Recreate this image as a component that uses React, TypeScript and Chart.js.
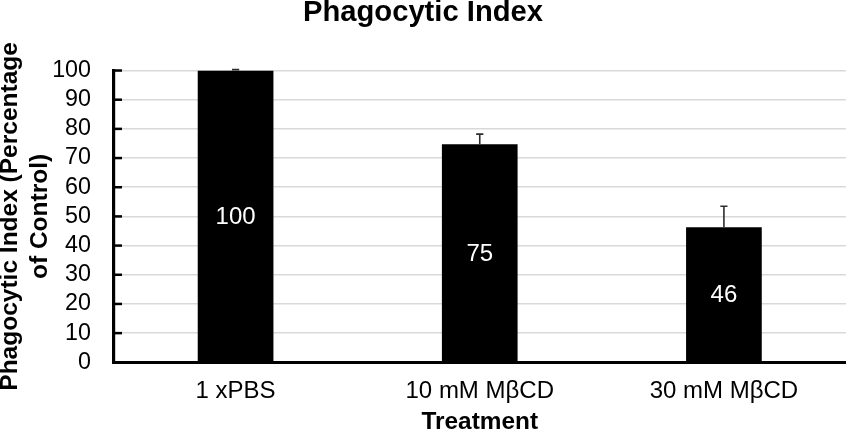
import { useEffect, useRef } from 'react';
import { Chart, registerables } from 'chart.js';

Chart.register(...registerables);

const FONT = "'Liberation Sans', Arial, sans-serif";

const chartTitle = 'Phagocytic Index';
const xAxisTitle = 'Treatment';
const yAxisTitle = ['Phagocytic Index (Percentage', 'of Control)'];
const categories = ['1 xPBS', '10 mM MβCD', '30 mM MβCD'];
const values = [100, 74.7, 46.3];
const errors = [0.3, 3.5, 7.2];
const valueLabels = ['100', '75', '46'];
const yTickValues = [0, 10, 20, 30, 40, 50, 60, 70, 80, 90, 100];

const barExtrasPlugin = {
  id: 'barExtras',
  afterDatasetsDraw(chart: any) {
    const meta = chart.getDatasetMeta(0);
    const yScale = chart.scales.y;
    const ctx = chart.ctx;
    ctx.save();
    // error bars (plus direction)
    ctx.strokeStyle = '#2e2e2e';
    ctx.lineWidth = 1.6;
    meta.data.forEach((bar: any, i: number) => {
      const top = yScale.getPixelForValue(values[i] + errors[i]);
      ctx.beginPath();
      ctx.moveTo(bar.x, bar.y);
      ctx.lineTo(bar.x, top);
      ctx.moveTo(bar.x - 3.6, top);
      ctx.lineTo(bar.x + 3.6, top);
      ctx.stroke();
    });
    // value labels centred in bars
    ctx.fillStyle = '#ffffff';
    ctx.font = `24px ${FONT}`;
    ctx.textAlign = 'center';
    ctx.textBaseline = 'middle';
    meta.data.forEach((bar: any, i: number) => {
      ctx.fillText(valueLabels[i], bar.x, (bar.y + bar.base) / 2 + 1);
    });
    ctx.restore();
  },
  afterDraw(chart: any) {
    // inside tick marks on the y axis
    const yScale = chart.scales.y;
    const left = chart.chartArea.left;
    const ctx = chart.ctx;
    ctx.save();
    ctx.strokeStyle = '#000';
    ctx.lineWidth = 2.5;
    yTickValues.forEach((v) => {
      const p = yScale.getPixelForValue(v);
      ctx.beginPath();
      ctx.moveTo(left, p);
      ctx.lineTo(left + 8.5, p);
      ctx.stroke();
    });
    ctx.restore();
  },
};

export default function App() {
  const ref = useRef<HTMLCanvasElement | null>(null);

  useEffect(() => {
    if (!ref.current) return;
    const chart = new Chart(ref.current, {
      type: 'bar',
      data: {
        labels: categories,
        datasets: [
          {
            data: values,
            backgroundColor: '#000000',
            borderWidth: 0,
            barPercentage: 0.31,
            categoryPercentage: 1,
          },
        ],
      },
      options: {
        responsive: false,
        animation: false,
        layout: { padding: 0 },
        plugins: {
          legend: { display: false },
          tooltip: { enabled: false },
          title: {
            display: true,
            text: chartTitle,
            color: '#000',
            font: { family: FONT, size: 29.2, weight: 'bold', lineHeight: 0.85 },
            padding: { top: 0.5, bottom: 45.2 },
          },
        },
        scales: {
          x: {
            grid: { display: false },
            border: { display: true, color: '#000', width: 3 },
            ticks: {
              color: '#000',
              font: { family: FONT, size: 24 },
              padding: 6.8,
              maxRotation: 0,
              autoSkip: false,
            },
            title: {
              display: true,
              text: xAxisTitle,
              color: '#000',
              font: { family: FONT, size: 24.4, weight: 'bold', lineHeight: 1 },
              padding: { top: 0, bottom: 1 },
            },
            afterFit: (scale: any) => {
              scale.height = 72.7;
            },
          },
          y: {
            min: 0,
            max: 100,
            afterBuildTicks: (scale: any) => {
              scale.ticks = yTickValues.map((v) => ({ value: v }));
            },
            grid: { color: '#d9d9d9', lineWidth: 1.5, drawTicks: false },
            border: { display: true, color: '#000', width: 3.2 },
            ticks: {
              color: '#000',
              font: { family: FONT, size: 23.3, lineHeight: 1 },
              padding: 22.5,
              autoSkip: false,
            },
            title: {
              display: true,
              text: yAxisTitle,
              color: '#000',
              font: { family: FONT, size: 24.5, weight: 'bold', lineHeight: 1.22 },
              padding: { top: -4.2, bottom: 0 },
            },
            afterFit: (scale: any) => {
              scale.width = 113.5;
            },
          },
        },
      },
      plugins: [barExtrasPlugin],
    } as any);
    return () => chart.destroy();
  }, []);

  return (
    <div style={{ position: 'absolute', left: 0, top: 0, width: 846, height: 435, background: '#fff' }}>
      <canvas
        ref={ref}
        width={846}
        height={435}
        style={{ width: '846px', height: '435px', display: 'block' }}
      />
    </div>
  );
}
